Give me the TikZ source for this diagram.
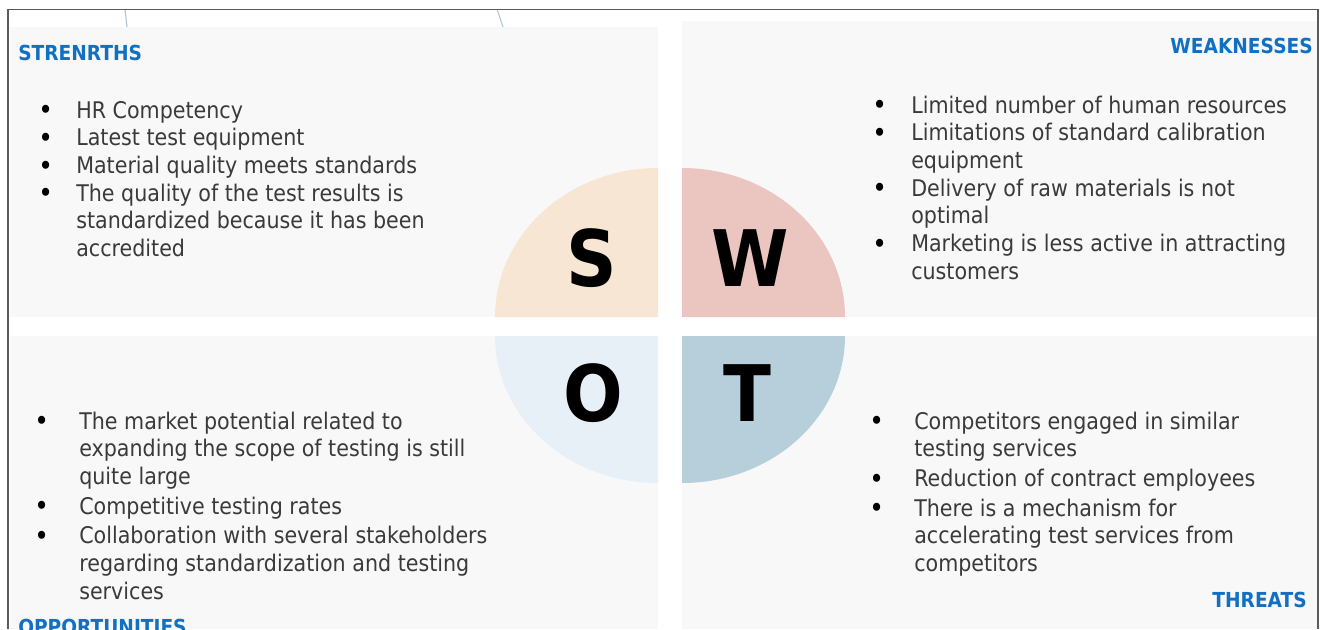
\documentclass[tikz,border=0pt]{standalone}
\usepackage{fontspec}
\setmainfont{DejaVu Sans}[FakeStretch=0.9]

\definecolor{panelgray}{HTML}{F8F8F8}
\definecolor{titleblue}{HTML}{1170C2}
\definecolor{bodygray}{HTML}{3A3A3A}
\definecolor{sfill}{HTML}{F8E6D5}
\definecolor{wfill}{HTML}{EBC5BF}
\definecolor{ofill}{HTML}{E7EFF7}
\definecolor{tfill}{HTML}{B6CFDA}
\definecolor{framegray}{HTML}{5A5A5A}
\definecolor{lineblue}{HTML}{A9C4D6}

% bullet cell of a given width
\newcommand{\bul}[1]{\makebox[#1][l]{\raisebox{-1.2pt}{\textcolor{black}{\scalebox{1.2}{\textbullet}}}}}

\begin{document}
\begin{tikzpicture}[x=0.75pt, y=-0.75pt,
    title/.style={text=titleblue, font=\fontsize{15.5}{18}\selectfont\bfseries, inner sep=0pt},
    list/.style={text=bodygray, font=\fontsize{17.2}{20.8}\selectfont, inner sep=0pt, anchor=base west},
    letter/.style={font=\fontsize{58.5}{60}\selectfont\bfseries, inner sep=0pt}]

        \clip (0,0) rectangle (1321,629);
        \fill[white] (0,0) rectangle (1321,629);

        % background panels
        \fill[panelgray] (10,27) rectangle (658,317);
        \fill[panelgray] (682,21) rectangle (1318,317);
        \fill[panelgray] (10,336) rectangle (658,629);
        \fill[panelgray] (682,336) rectangle (1318,629);

        \draw[lineblue, line width=0.8pt] (125,9) -- (127,27);
        \draw[lineblue, line width=0.8pt] (497,9) -- (503,27);
        \draw[framegray, line width=1.2pt] (8,629) -- (8,9.5) -- (1318,9.5) -- (1318,629);

        % the four quarters
        \fill[sfill] (658,317) -- (495,317) arc[start angle=180, end angle=270, x radius=163, y radius=149] -- cycle;
        \fill[wfill] (682,317) -- (682,168) arc[start angle=270, end angle=360, x radius=163, y radius=149] -- cycle;
        \fill[ofill] (658,336) -- (658,483) arc[start angle=90, end angle=180, x radius=163, y radius=147] -- cycle;
        \fill[tfill] (682,336) -- (845,336) arc[start angle=0, end angle=90, x radius=163, y radius=147] -- cycle;

        \node[letter] (S) at (592,258) {S};
        \node[letter] (W) at (750,258) {W};
        \node[letter] (O) at (593,393) {O};
        \node[letter] (T) at (747,393) {T};

        % titles
        \node[title, anchor=base west] (Strengths) at (18,60) {STRENRTHS};
        \node[title, anchor=base east] (Weaknesses) at (1313,53) {WEAKNESSES};
        \node[title, anchor=base west] (Opportunities) at (18,634) {OPPORTUNITIES};
        \node[title, anchor=base east] (Threats) at (1307,607) {THREATS};

        % lists
        \node[list] (Strengths List) at (38,118) {\begin{tabular}[t]{@{}l@{}l@{}}
            \bul{28.5pt} & HR Competency\\
            \bul{28.5pt} & Latest test equipment\\
            \bul{28.5pt} & Material quality meets standards\\
            \bul{28.5pt} & The quality of the test results is\\
                         & standardized because it has been\\
                         & accredited
        \end{tabular}};
        \node[list] (Weaknesses List) at (872,113) {\begin{tabular}[t]{@{}l@{}l@{}}
            \bul{29.25pt} & Limited number of human resources\\
            \bul{29.25pt} & Limitations of standard calibration\\
                          & equipment\\
            \bul{29.25pt} & Delivery of raw materials is not\\
                          & optimal\\
            \bul{29.25pt} & Marketing is less active in attracting\\
                          & customers
        \end{tabular}};
        \node[list] (Opportunities List) at (34,429) {\begin{tabular}[t]{@{}l@{}l@{}}
            \bul{33.75pt} & The market potential related to\\
                          & expanding the scope of testing is still\\
                          & quite large\\[1.5pt]
            \bul{33.75pt} & Competitive testing rates\\[1.5pt]
            \bul{33.75pt} & Collaboration with several stakeholders\\
                          & regarding standardization and testing\\
                          & services
        \end{tabular}};
        \node[list] (Threats List) at (869,429) {\begin{tabular}[t]{@{}l@{}l@{}}
            \bul{33.75pt} & Competitors engaged in similar\\
                          & testing services\\[1.5pt]
            \bul{33.75pt} & Reduction of contract employees\\[1.5pt]
            \bul{33.75pt} & There is a mechanism for\\
                          & accelerating test services from\\
                          & competitors
        \end{tabular}};
\end{tikzpicture}
\end{document}
